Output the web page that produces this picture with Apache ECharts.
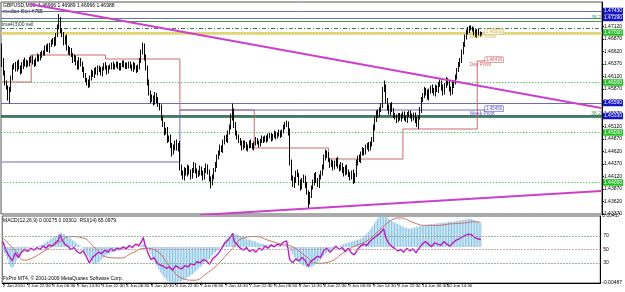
<!DOCTYPE html>
<html><head><meta charset="utf-8">
<script src="https://cdn.jsdelivr.net/npm/echarts@6/dist/echarts.min.js"></script>
<style>html,body{margin:0;padding:0;background:#fff}#c{width:625px;height:292px}</style>
</head><body><div id="c"></div>
<script>
// ---------- DATA ----------
const timeLabels = ['2 Jun 2010','2 Jun 22:30','3 Jun 06:30','3 Jun 14:30','3 Jun 22:30','4 Jun 06:30','4 Jun 14:30','4 Jun 22:30','7 Jun 06:30','7 Jun 14:30','7 Jun 22:30','8 Jun 06:30','8 Jun 14:30','8 Jun 22:30','9 Jun 06:30','9 Jun 14:30','9 Jun 22:30','10 Jun 06:30','10 Jun 14:30','10 Jun 22:30'];
const barsPerLabel = 16;
const totalSlots = 388;
// prices in pips above 1.4300
const firstOpen = 360;
const closes = [345,318,300,290, 270,285,310,330, 335,328,340,330,322,335,342,336, 342,336,345,350,340,337,346,352,348,355, 360,358,368,372,365,375,380,385,378, 395,410,425,405, 395,380,390,370,360, 365,355,345,350,340,330,345,338,325, 315,305,300,295,310,320,315,325, 320,330,325,318,328,335,330,322,330, 332,336,330,334,338,333,328,335,340,336,331,334,338,332,327,335,330,325, 330,345,360,372,350, 330,300,280,265, 270,260,275,265,255,250, 230,215,200,205, 185,190,175,160,170,180,168,175, 130,120,110,125,118,130,120,112,125,135,122,115, 120,128,118,110,125,132,120,108,100,110,125,135, 150,160,170,165,180,190,185,200,210, 230,240,215, 200,190,185,178,170,180,175,168,172,180, 175,170,178,185,180,176,183,188,185,190,186,192,195,188,193,198,192,196,200,195,202,210, 215,218,200, 140,110,95,105,120,115,100,90,105,110,95,80,60,75, 90,100,115,105,95,110,120,130, 150,160,155,145, 135,140,130,138,145,132, 128,135,125,118,130,122,115,110,120,105,115, 140,150,145,158,165,160,170,175,168,178,185, 210,225,240,235,245,255, 285,290, 265,250,240,255,245,235, 230,225,235,228,232,238,230,225,235,240,232,228,236, 225,215,230,245, 265,275,285,280,270,282,290,285,278, 290,285,295,300,290,280,295,305,298,288,280,295,300, 310,325,335,343, 360,375,390,400, 405,410,408,406, 400,395,403,398,396,399];
// wick lengths, in units of 2 pips, one digit per bar
const upWicks = "9232232323 2323242132 2323232232 3232323632 3232322322 3223223232 2322322322 2232223222 2322232232 3433232323 2323232323 2323243232 3232323232 3232323233 2323232349 4323232232 2322322232 2232223223 2233324323 2323232323 2323232333 2323232323 2323232323 2323232323 3323323732 3232232232 2232232232 3323233232 3233232323 2323233333 3322223222 1";
const downWicks = "7232362323 3232423223 2322323223 2322322232 3232323232 2323233232 3232232232 2322232223 2232232322 3233333232 3233232323 4232333232 3232323232 3232363223 2323223223 3323232323 2323223223 2322322322 3222233323 3233233262 3233232323 3232323232 3323232432 3232322323 2323223233 2323232232 3232232324 2323323232 3232332323 3232222222 2232232322 1";
// MACD main, units of 0.0001
const macdMain = [-4,-8,-12,-17,-22,-27,-28,-26,-22,-18, -15,-12,-9,-7,-5,-3,-2,-1,0,1, 1,0,1,2,2,3,4,5,7,8, 9,11,12,13,14,15,17,18,19,18, 17,15,14,12,11,9,8,6,5,3, 2,0,-3,-6,-9,-12,-16,-19,-21,-23, -23,-22,-21,-19,-17,-15,-13,-12,-10,-9, -8,-7,-6,-6,-5,-5,-4,-4,-3,-3, -3,-2,-2,-1,-1,0,0,1,1,2, 3,4,3,1,-2,-6,-10,-14,-18,-22, -26,-30,-34,-37,-40,-42,-44,-46,-47,-48, -49,-49,-48,-48,-47,-47,-46,-45,-44,-42, -41,-40,-38,-37,-35,-33,-31,-29,-27,-25, -23,-21,-19,-17,-16,-13,-11,-9,-7,-5, -3,-1,2,5,8,10,12,14,16,18, 18,17,17,16,15,14,13,12,11,10, 10,9,8,8,7,6,5,5,4,4, 3,3,3,2,2,2,2,1,1,1, 1,1,1,2,2,0,-3,-7,-11,-14, -17,-19,-21,-22,-24,-25,-26,-27,-28,-28, -27,-26,-25,-23,-21,-19,-17,-15,-12,-10, -8,-6,-5,-4,-3,-2,-1,0,1,2, 3,4,5,5,6,7,7,8,8,9, 10,10,11,12,14,16,18,20,23,26, 29,32,35,38,40,41,42,42,41,40, 38,37,35,34,33,32,31,30,29,28, 27,26,26,25,25,25,26,26,27,27, 28,28,29,29,30,30,30,31,31,31, 31,32,32,32,32,33,33,33,33,34, 34,34,34,35,35,35,36,36,36,37, 37,37,38,38,38,37,36,35,34,33, 32];
const macdSignal = [[0,12],[8,-5],[14,-18],[20,-14],[28,-4],[36,6],[44,14],[52,12],[60,-2],[68,-14],[76,-15],[84,-8],[92,-2],[100,-6],[108,-26],[116,-42],[124,-45],[132,-36],[140,-22],[148,-4],[156,12],[164,14],[172,9],[180,4],[188,0],[196,-12],[204,-22],[212,-20],[220,-9],[228,1],[236,8],[244,22],[252,36],[258,39],[266,33],[274,29],[282,29],[290,31],[298,32],[306,34],[310,33]];
const rsiPoints = [[0,62],[2,48],[4,40],[6,33],[8,45],[10,38],[12,46],[14,50],[16,47],[18,52],[20,49],[22,53],[24,50],[26,55],[28,52],[30,57],[32,55],[34,60],[36,64],[37,72],[38,66],[40,58],[42,55],[44,50],[46,53],[48,47],[50,44],[52,48],[54,40],[56,30],[58,38],[60,42],[62,46],[64,44],[66,49],[68,46],[70,51],[72,48],[74,52],[76,50],[78,54],[80,51],[82,56],[84,53],[86,58],[88,56],[90,62],[91,68],[92,58],[94,45],[96,35],[98,38],[100,30],[102,27],[104,25],[106,22],[108,24],[110,19],[112,26],[114,23],[116,21],[118,26],[120,24],[122,29],[124,27],[126,32],[128,30],[130,35],[132,33],[134,28],[136,36],[138,40],[140,45],[142,52],[144,60],[146,64],[148,70],[149,74],[150,62],[152,57],[154,52],[156,49],[158,53],[160,47],[162,50],[164,46],[166,52],[168,49],[170,55],[172,52],[174,57],[176,54],[178,58],[180,56],[182,61],[184,63],[185,50],[186,35],[188,30],[190,36],[192,33],[194,38],[196,34],[198,25],[200,33],[202,36],[204,40],[206,38],[208,48],[210,52],[212,46],[214,50],[216,55],[218,50],[220,53],[222,47],[224,52],[226,45],[228,42],[230,50],[232,55],[234,58],[236,56],[238,62],[240,66],[242,70],[244,73],[246,78],[247,81],[248,70],[250,60],[252,55],[254,52],[256,48],[258,50],[260,46],[262,52],[264,48],[266,51],[268,45],[270,52],[272,58],[274,62],[276,58],[278,54],[280,60],[282,58],[284,56],[286,62],[288,58],[290,55],[292,60],[294,64],[296,66],[298,69],[300,71],[302,73],[304,72],[306,68],[308,66],[310,65]];
// price levels
const blueLevels = [1.4743, 1.4729, 1.4559];
const navyLevel = 1.4533;
const roundLevels = [1.4700, 1.4600, 1.4500, 1.4400];
const fibLevels = [1.4722, 1.4530];
const sellLevel = 1.4709;
const monthPivot = 1.4699;
const lastPrice = 1.46988;
const dayPivot = [[0,1.4601],[19,1.4601],[19,1.4655],[67,1.4655],[67,1.4647],[115,1.4647],[115,1.4545],[163,1.4545],[163,1.4469],[211,1.4469],[211,1.4447],[259,1.4447],[259,1.4507],[307,1.4507],[307,1.4643],[318,1.4643]];
const weekPivot = [[0,1.4441],[115,1.4441],[115,1.4545],[318,1.4545]];
const resistanceLine = [[18,1.4757],[387,1.4549]];
const supportLine = [[128,1.4335],[387,1.4383]];
const rsiLevels = [70, 50, 30];
const macdRange = [-0.00487, 0.00417];
const priceMin = 1.4337, priceMax = 1.4761, priceStep = 0.0025;

// ---------- BUILD ----------
const FONT = 'Liberation Sans';
const P = p => +(1.43 + p / 10000).toFixed(5);
const uw = upWicks.replace(/\s/g,''), dw = downWicks.replace(/\s/g,'');
const candles = closes.map((c, i) => {
  const o = i ? closes[i-1] : firstOpen;
  const h = Math.max(o, c) + 2 * (+uw[i] || 0);
  const l = Math.min(o, c) - 2 * (+dw[i] || 0);
  return [P(o), P(c), P(l), P(h)];
});
const cats = Array.from({length: totalSlots}, (_, i) => String(i));
const macdVals = macdMain.map(v => v / 10000);
const sigVals = macdSignal.map(([i, v]) => [i, v / 10000]);

function box(text, bg, fg, border) {
  return {show: true, position: 'end', distance: 1, formatter: text, backgroundColor: bg, color: fg,
    borderColor: border || bg, borderWidth: border ? 0.5 : 0, padding: [0.5, 1, 0, 1], fontSize: 5, fontFamily: FONT, lineHeight: 6};
}
const ml = [];
blueLevels.forEach(v => ml.push({yAxis: v, lineStyle: {color: '#6c6cb4', width: 1, type: 'solid'}, label: box(v.toFixed(5), '#1414c8', '#fff')}));
ml.push({yAxis: navyLevel, lineStyle: {color: '#1d3a5a', width: 1.6, type: 'solid'}, label: box(navyLevel.toFixed(5), '#1414c8', '#fff')});
roundLevels.forEach(v => ml.push({yAxis: v, lineStyle: {color: '#5fcf5f', width: 1, type: [1.5, 1.5]}, label: box(v.toFixed(5), '#22c022', '#fff')}));
fibLevels.forEach(v => ml.push({yAxis: v, lineStyle: {color: '#3e9e3e', width: 1, type: 'solid'},
  label: {show: true, position: 'insideEndTop', distance: 1, formatter: '38.2', color: '#3e9e3e', fontSize: 5, fontFamily: FONT}}));
ml.push({yAxis: sellLevel, lineStyle: {color: '#4f6f4f', width: 1, type: [4, 2, 1, 2]},
  label: {show: true, position: 'insideStartTop', distance: 1, formatter: 'ima4(3)00 sell', color: '#333', fontSize: 5, fontFamily: FONT}});
ml.push({yAxis: monthPivot, lineStyle: {color: '#e4d46c', width: 2.5, type: 'solid'}, label: {show: false}});
ml.push({yAxis: lastPrice, lineStyle: {opacity: 0}, label: box(lastPrice.toFixed(5), '#000', '#fff')});

const pivotTags = [
  {text: 'Day Pivot', bar: 302, price: 1.4643, color: '#c83c3c', bg: '#fff'},
  {text: 'Week Pivot', bar: 302, price: 1.4545, color: '#2a2ac0', bg: '#fff'},
  {text: 'Month Pivot', bar: 302, price: 1.4699, color: '#c8a830', bg: '#fff'}
];

const showTick = i => i % barsPerLabel === 0 && i / barsPerLabel < timeLabels.length;
const chart = echarts.init(document.getElementById('c'), null, {renderer: 'canvas'});
const option = {
  animation: false,
  backgroundColor: '#fff',
  textStyle: {fontFamily: FONT},
  grid: [
    {left: 1, right: 18, top: 2, height: 212, show: true, borderColor: '#555', borderWidth: 1},
    {left: 1, right: 18, top: 216, height: 67, show: true, borderColor: '#555', borderWidth: 1}
  ],
  xAxis: [
    {type: 'category', gridIndex: 0, data: cats, show: false, boundaryGap: true},
    {type: 'category', gridIndex: 1, data: cats, boundaryGap: true,
      axisLine: {onZero: false, lineStyle: {color: '#000'}},
      axisTick: {show: true, length: 2, interval: showTick, lineStyle: {color: '#000'}, alignWithLabel: true},
      axisLabel: {show: true, fontSize: 4.4, color: '#000', margin: 1, align: 'left', fontFamily: FONT,
        interval: showTick, hideOverlap: false,
        formatter: (v, i) => timeLabels[i / barsPerLabel] || ''}}
  ],
  yAxis: [
    {type: 'value', gridIndex: 0, position: 'right', min: priceMin, max: priceMax, interval: priceStep, scale: true,
      axisLine: {show: true, lineStyle: {color: '#000'}}, axisTick: {show: true, length: 2, lineStyle: {color: '#000'}},
      splitLine: {show: false},
      axisLabel: {fontSize: 5, color: '#000', margin: 2, fontFamily: FONT, showMaxLabel: false, formatter: v => v.toFixed(5)}},
    {type: 'value', gridIndex: 1, position: 'right', min: macdRange[0], max: macdRange[1], interval: macdRange[1] - macdRange[0],
      axisLine: {show: true, lineStyle: {color: '#000'}}, axisTick: {show: false}, splitLine: {show: false},
      axisLabel: {fontSize: 5, color: '#000', margin: 2, fontFamily: FONT, formatter: v => v.toFixed(5)}},
    {type: 'value', gridIndex: 1, min: 0, max: 100, show: false, splitLine: {show: false}}
  ],
  series: [
    {type: 'candlestick', xAxisIndex: 0, yAxisIndex: 0, data: candles, barWidth: 1.2, z: 3,
      itemStyle: {color: '#222', color0: '#000', borderColor: '#111', borderColor0: '#000', borderWidth: 1},
      markLine: {silent: true, symbol: ['none', 'none'], animation: false, precision: 5, data: ml, z: 2}},
    {type: 'line', xAxisIndex: 0, yAxisIndex: 0, data: dayPivot, symbol: 'none', z: 2,
      lineStyle: {color: '#c86a6a', width: 1}},
    {type: 'line', xAxisIndex: 0, yAxisIndex: 0, data: weekPivot, symbol: 'none', z: 2,
      lineStyle: {color: '#6c6cb4', width: 1}},
    {type: 'line', xAxisIndex: 0, yAxisIndex: 0, data: resistanceLine, symbol: 'none', z: 4,
      lineStyle: {color: '#cc3fcc', width: 2}},
    {type: 'line', xAxisIndex: 0, yAxisIndex: 0, data: supportLine, symbol: 'none', z: 4,
      lineStyle: {color: '#cc3fcc', width: 2}},
    {type: 'scatter', xAxisIndex: 0, yAxisIndex: 0, symbolSize: 0, z: 5,
      data: pivotTags.map(t => ({value: [t.bar, t.price], label: {show: true, position: [0, 1], formatter: t.text, color: t.color, fontSize: 5, fontFamily: FONT}}))},
    {type: 'scatter', xAxisIndex: 0, yAxisIndex: 0, symbolSize: 0, z: 5,
      data: pivotTags.map(t => ({value: [t.bar + 10, t.price], label: {show: true, position: [0, -4], formatter: t.price.toFixed(5), color: t.color,
        backgroundColor: t.bg, borderColor: t.color, borderWidth: 0.5, padding: [0.5, 1, 0, 1], fontSize: 4.5, fontFamily: FONT}}))},
    {type: 'bar', xAxisIndex: 1, yAxisIndex: 1, data: macdVals, barWidth: 1, itemStyle: {color: '#86c3e3'}, z: 2},
    {type: 'line', xAxisIndex: 1, yAxisIndex: 1, data: sigVals, symbol: 'none', smooth: 0.5, z: 3,
      lineStyle: {color: '#c8706a', width: 1}},
    {type: 'line', xAxisIndex: 1, yAxisIndex: 2, data: rsiPoints, symbol: 'none', z: 4,
      lineStyle: {color: '#b81cc8', width: 1.4},
      markLine: {silent: true, symbol: ['none', 'none'], animation: false,
        data: rsiLevels.map(v => ({yAxis: v, lineStyle: {color: v === 50 ? '#d08888' : '#7fa07f', width: 1, type: [1.5, 1.5]},
          label: {show: true, position: 'end', distance: 3, formatter: String(v), color: '#000', fontSize: 5, fontFamily: FONT}}))}}
  ],
  graphic: [
    {type: 'text', left: 3, top: 3, style: {text: 'GBPUSD,M30  1.46966 1.46989 1.46966 1.46988', fontSize: 5, fill: '#000', fontFamily: FONT}},
    {type: 'text', left: 3, top: 9, style: {text: 'median filter #755', fontSize: 5, fill: '#000', fontFamily: FONT}},
    {type: 'text', left: 3, top: 218, style: {text: 'MACD(12,26,9) 0.00275 0.00302  RSI(14) 65.0979', fontSize: 5, fill: '#000', fontFamily: FONT}},
    {type: 'text', left: 3, top: 276, style: {text: 'FxPro MT4, © 2001-2009 MetaQuotes Software Corp.', fontSize: 5, fill: '#000', fontFamily: FONT}}
  ]
};
chart.setOption(option);
</script></body></html>
